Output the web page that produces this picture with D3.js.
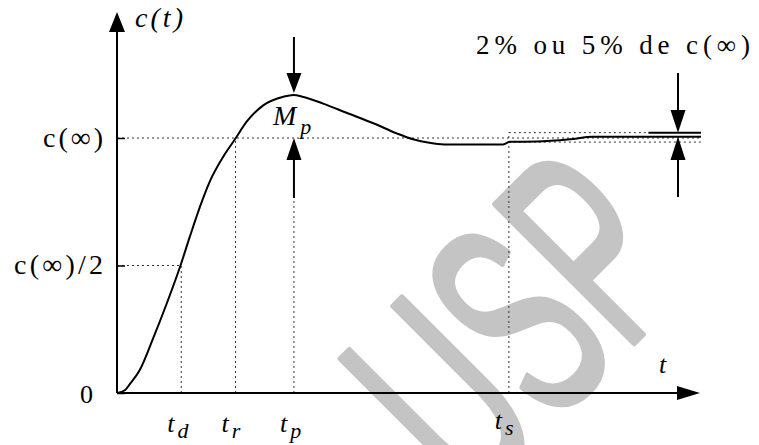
<!DOCTYPE html>
<html>
<head>
<meta charset="utf-8">
<script src="https://cdn.jsdelivr.net/npm/d3@7"></script>
<style>
	body { margin: 0; background: #fff; }
	svg { display: block; }
	svg text.serif { font-family: "Liberation Serif"; }
</style>
</head>
<body>
<div id="chart"></div>
<script>
// step response values (c(inf) = 1)
const curveT = [0, 0.14, 0.22, 0.39, 0.62, 0.85, 1.08, 1.25, 1.42, 1.59, 1.82, 2.02, 2.22, 2.51, 2.85, 3.02, 3.19, 3.53, 3.93, 4.39, 4.79, 5.07, 5.35, 5.6, 6.61, 6.73, 7.19, 7.76, 8.15, 10];
const curveC = [0, 0.012, 0.035, 0.09, 0.215, 0.35, 0.495, 0.615, 0.73, 0.83, 0.927, 0.995, 1.064, 1.129, 1.162, 1.169, 1.161, 1.135, 1.099, 1.058, 1.018, 0.995, 0.981, 0.975, 0.975, 0.985, 0.986, 0.995, 1.005, 1.005];

const levelValues = [0, 0.5, 1];
const levelLabels = ['0', 'c(\u221E)/2', 'c(\u221E)'];

const timeNames = ['d', 'r', 'p', 's'];
const timeValues = [1.10, 2.03, 3.03, 6.71];

const bandValues = [0.984, 1.021];
const peakValue = 1.169;
const finalValue = 1.005;
const bandNote = '2% ou 5% de c(\u221E)';

const width = 759, height = 445;

const svg = d3.select('#chart')
			.append('svg')
			.attr('width', width)
			.attr('height', height);

const x = d3.scaleLinear().domain([0, 10]).range([117, 701]);
const y = d3.scaleLinear().domain([0, 1]).range([393, 138]);

// watermark
svg.append('text')
	.attr('transform', `translate(584,393) rotate(-45) scale(0.55,1)`)
	.attr('text-anchor', 'middle')
	.attr('vector-effect', 'non-scaling-stroke')
	.style('font-family', '"Liberation Sans"')
	.style('font-size', '285px')
	.style('fill', '#c4c4c4')
	.style('stroke', '#c4c4c4')
	.style('stroke-width', 5)
	.style('stroke-linejoin', 'round')
	.text('USP');

const dotted = (x1, y1, x2, y2) => {
	svg.append('line')
		.attr('x1', x1).attr('y1', y1)
		.attr('x2', x2).attr('y2', y2)
		.style('stroke', '#333')
		.style('stroke-width', 1)
		.style('stroke-dasharray', '2,3');
}

const solid = (x1, y1, x2, y2) => {
	svg.append('line')
		.attr('x1', x1).attr('y1', y1)
		.attr('x2', x2).attr('y2', y2)
		.style('stroke', '#000')
		.style('stroke-width', 2);
}

const head = (pts) => {
	svg.append('path')
		.attr('d', d3.line()(pts) + 'Z')
		.style('fill', '#000');
}

const td = timeValues[0], tr = timeValues[1], tp = timeValues[2], ts = timeValues[3];

// guide lines
dotted(x(0), y(1), x(10), y(1));
dotted(x(0), y(0.5), x(td), y(0.5));
dotted(x(td), y(0), x(td), y(0.5));
dotted(x(tr), y(0), x(tr), y(1));
dotted(x(tp), y(0), x(tp), 198);
dotted(x(ts), y(0), x(ts), y(bandValues[1]));
dotted(x(ts), y(bandValues[1]), x(9.1), y(bandValues[1]));
dotted(x(ts), y(bandValues[0]), x(10), y(bandValues[0]));
solid(x(9.1), y(bandValues[1]), x(10), y(bandValues[1]));

// axes
solid(x(0), y(0), x(0), 30);
head([[x(0), 12], [x(0) - 8, 32], [x(0) + 8, 32]]);
solid(x(0), y(0), 680, y(0));
head([[x(10) - 1, y(0)], [677, y(0) - 7], [677, y(0) + 7]]);

const yAxis = svg.append('g')
	.attr('transform', `translate(${x(0)},0)`)
	.call(d3.axisLeft(y)
		.tickValues(levelValues)
		.tickFormat((d, i) => levelLabels[i])
		.tickSizeInner(-8)
		.tickSizeOuter(0)
		.tickPadding(14));

yAxis.attr('font-family', null).attr('font-size', null);
yAxis.select('.domain').remove();
yAxis.selectAll('.tick line')
	.style('stroke', '#000')
	.style('stroke-width', 1.5);
yAxis.selectAll('.tick text')
	.attr('class', 'serif')
	.style('font-size', (d) => d === 0 ? '26px' : '28px')
	.style('fill', '#000')
	.attr('x', (d) => d === 0 ? -24 : -14)
	.attr('dy', (d) => d === 0 ? '0.38em' : '0.3em')
	.attr('textLength', (d) => d === 0 ? null : (d === 1 ? 60 : 89))
	.attr('lengthAdjust', 'spacing');

// response curve
const line = d3.line()
	.x((d) => x(d))
	.y((d, i) => y(curveC[i]))
	.curve(d3.curveMonotoneX);

svg.append('path')
	.attr('d', line(curveT))
	.style('fill', 'none')
	.style('stroke', '#000')
	.style('stroke-width', 2);

// Mp arrows
const xp = x(tp);
solid(xp, 37, xp, 76);
head([[xp, y(peakValue) - 2], [xp - 7.5, 73], [xp + 7.5, 73]]);
solid(xp, 198, xp, 157);
head([[xp, y(1)], [xp - 7.5, 160], [xp + 7.5, 160]]);

// band arrows
const xb = 678;
solid(xb, 73, xb, 113);
head([[xb, y(bandValues[1])], [xb - 7.5, 110], [xb + 7.5, 110]]);
solid(xb, 197, xb, 157);
head([[xb, y(finalValue)], [xb - 7.5, 160], [xb + 7.5, 160]]);

// labels
svg.append('text')
	.attr('class', 'serif')
	.attr('x', 135).attr('y', 27)
	.attr('textLength', 48)
	.attr('lengthAdjust', 'spacing')
	.style('font-style', 'italic')
	.style('font-size', '28px')
	.text('c(t)');

svg.append('text')
	.attr('class', 'serif')
	.attr('x', 476).attr('y', 54)
	.attr('textLength', 274)
	.attr('lengthAdjust', 'spacing')
	.style('font-size', '27px')
	.text(bandNote);

const mp = svg.append('text')
	.attr('class', 'serif')
	.attr('x', 273).attr('y', 125)
	.style('font-style', 'italic')
	.style('font-size', '28px');
mp.append('tspan').text('M');
mp.append('tspan').attr('dx', 4).attr('dy', 9).style('font-size', '22px').text('p');

svg.append('text')
	.attr('class', 'serif')
	.attr('x', 659).attr('y', 373)
	.style('font-style', 'italic')
	.style('font-size', '26px')
	.text('t');

const tLabels = svg.selectAll('text.tlabel')
	.data(timeValues)
	.enter()
	.append('text')
	.attr('class', 'tlabel serif')
	.attr('x', (d) => x(d) - 14)
	.attr('y', (d, i) => i === 3 ? 429 : 432)
	.style('font-style', 'italic')
	.style('font-size', '26px');

tLabels.append('tspan').text('t');
tLabels.append('tspan')
	.attr('dx', 3)
	.attr('dy', 6)
	.style('font-size', '22px')
	.text((d, i) => timeNames[i]);
</script>
</body>
</html>
